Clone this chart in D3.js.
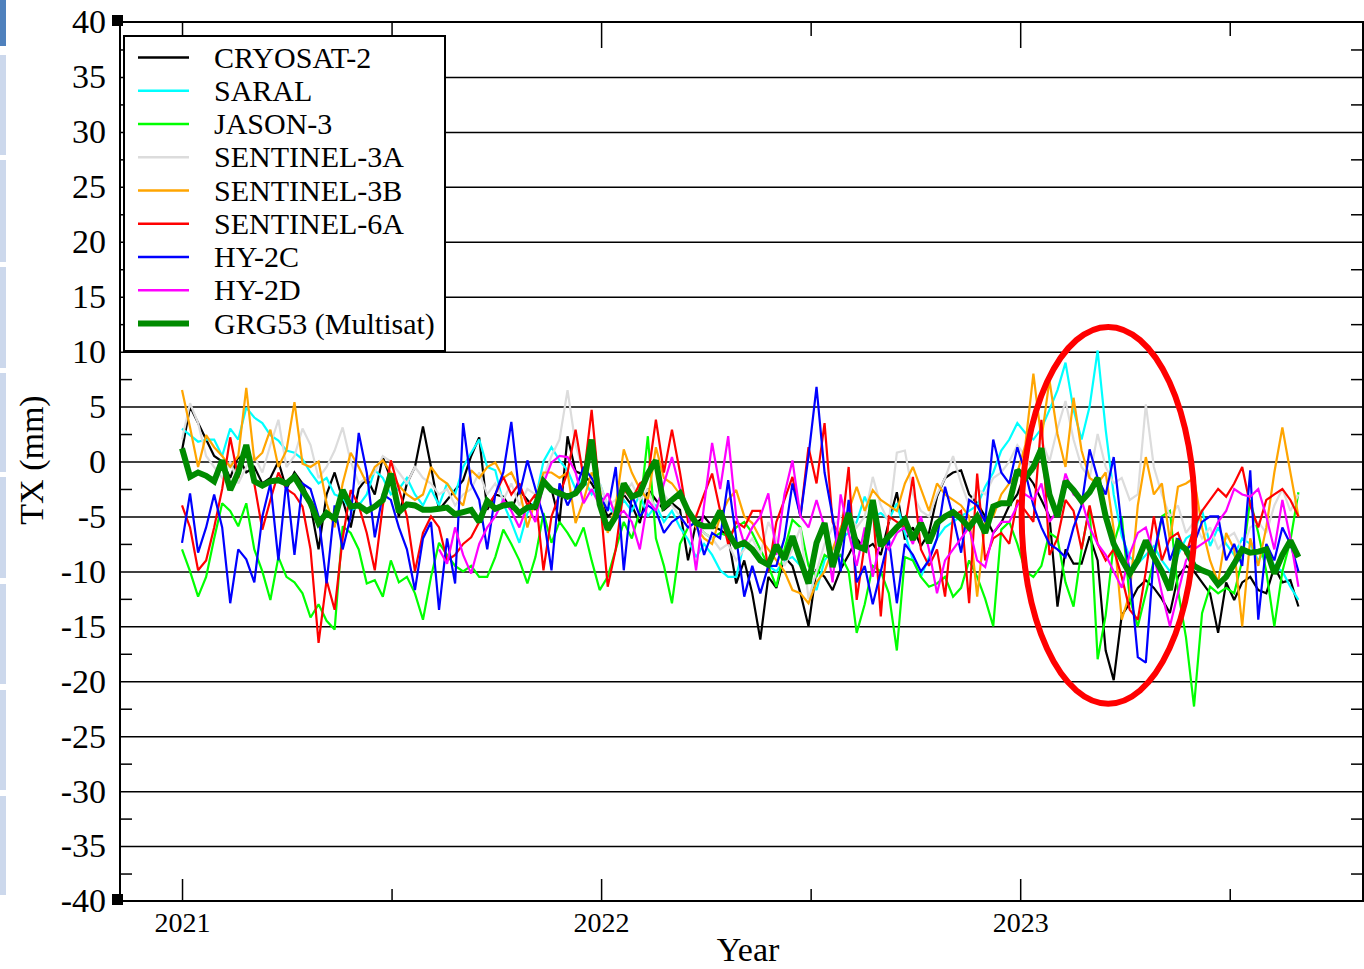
<!DOCTYPE html>
<html>
<head>
<meta charset="utf-8">
<script src="https://cdn.jsdelivr.net/npm/d3@7"></script>
<style>
body { margin: 0; background: #fff; }
svg { display: block; font-family: "Liberation Serif", "Times New Roman", serif; }
svg text { font-family: "Liberation Serif", "Times New Roman", serif; }
</style>
</head>
<body>
<script>
'use strict';

const width = 1364;
const height = 969;
const plot = { left: 120, right: 1363, top: 22, bottom: 901 };

// weekly solutions, first week at 2021.0
const startYear = 2021.0;
const weekStep = 7 / 365.25;

const yearTicks = [2021, 2022, 2023];
const halfYearTicks = [2021.5, 2022.5, 2023.5];
const yTickLabels = [40, 35, 30, 25, 20, 15, 10, 5, 0, -5, -10, -15, -20, -25, -30, -35, -40];

const seriesNames = ['CRYOSAT-2', 'SARAL', 'JASON-3', 'SENTINEL-3A', 'SENTINEL-3B',
  'SENTINEL-6A', 'HY-2C', 'HY-2D', 'GRG53 (Multisat)'];

const cryosat2 = [
  1.0, 5.0, 3.5, 2.0, 0.5, 0.0, -1.5, 0.5, -1.0, -0.5,
  -2.0, -1.5, 0.0, -2.5, -1.0, -2.0, -4.0, -8.0, -3.0, -1.0,
  -3.5, -6.0, -2.5, -1.5, -3.0, 0.4, -1.6, -5.0, -2.0, -0.5,
  3.2, -0.5, -4.4, -3.5, -2.6, -1.7, 0.5, 2.2, -4.4, -3.0,
  -3.2, -4.4, -2.6, -3.5, -4.4, -1.6, -2.5, -5.5, 2.3, -0.9,
  -1.2, -2.0, -3.3, -5.0, -4.4, -3.0, -4.0, -5.6, -2.5, -3.5,
  -4.4, -3.8, -4.4, -9.0, -5.6, -5.0, -5.9, -6.2, -6.8, -11.1,
  -9.0, -12.0, -16.2, -10.5, -11.5, -8.7, -9.5, -12.0, -15.0, -9.8,
  -10.5, -11.7, -9.8, -8.5, -7.0, -8.0, -7.5, -8.5, -5.5, -2.8,
  -7.1, -6.0, -7.7, -6.5, -3.2, -1.5, -1.0, -0.8, -3.0, -3.8,
  -5.0, -6.5, -5.6, -4.0, -3.0, -1.0, -2.0, -3.5, -5.0, -13.2,
  -8.0, -9.3, -9.3, -6.8, -9.0, -17.2, -19.9, -14.0, -12.9, -11.5,
  -10.8, -11.5, -12.5, -13.8, -10.5, -9.5, -10.0, -11.0, -12.0, -15.6,
  -11.0, -12.6, -11.0, -10.5, -11.7, -12.0, -9.6, -11.0, -10.8, -13.2
];

const saral = [
  3.0, 2.4, 1.8, 2.0, 2.0, 0.5, 3.0, 2.0, 4.9, 4.0,
  3.5, 2.4, 1.9, 1.0, 0.8, 0.2, -1.0, -2.0, -1.5, -3.0,
  -3.3, -4.5, -4.0, -3.0, -0.8, -1.5, -3.0, -2.5, -1.5, -3.0,
  -4.0, -2.5, -4.0, -2.0, -3.0, -0.5, 0.8, 2.0, -0.5, -0.8,
  -3.8, -5.5, -7.4, -4.7, -3.5, 0.0, 1.3, 0.1, -0.8, -2.5,
  -1.5, -3.0, -2.0, -4.0, -5.0, -3.5, -4.5, -3.0, -5.0, -4.0,
  -5.5, -4.5, -6.0, -7.1, -8.7, -7.5, -8.5, -9.9, -10.5, -10.5,
  -7.4, -8.0, -8.7, -9.5, -10.0, -9.0, -8.7, -9.5, -10.5, -11.7,
  -9.0, -8.0, -7.0, -6.5, -5.5, -3.2, -5.0, -4.7, -5.3, -3.8,
  -6.5, -9.0, -10.5, -8.7, -7.0, -6.0, -5.5, -5.0, -4.5, -4.0,
  -2.3, -1.0, 1.0, 2.0, 3.5, 2.6, 2.0, 3.0, 4.7, 6.5,
  9.0, 4.7, 2.0, 5.0, 10.1, 2.9, -3.0, -6.8, -8.7, -9.3,
  -8.5, -7.7, -9.0, -10.0, -8.5, -7.0, -6.5, -4.4, -7.7, -6.0,
  -7.5, -8.5, -7.0, -7.5, -9.0, -8.0, -9.5, -10.0, -11.4, -12.6
];

const jason3 = [
  -8.0, -10.0, -12.3, -10.5, -7.0, -3.8, -4.5, -5.9, -3.8, -8.0,
  -10.0, -12.6, -8.7, -10.5, -11.0, -12.0, -14.2, -13.0, -14.5, -15.3,
  -5.9, -6.5, -8.0, -11.1, -10.8, -12.3, -9.0, -11.0, -10.5, -12.0,
  -14.4, -10.5, -7.4, -8.5, -9.5, -10.0, -9.5, -10.5, -10.5, -8.7,
  -6.2, -7.5, -9.0, -11.1, -8.7, -4.7, -7.4, -5.5, -6.5, -7.7,
  -6.0, -9.0, -11.7, -10.5, -8.0, -5.5, -7.0, -4.5, 2.3, -7.0,
  -9.5, -12.9, -7.5, -6.0, -5.5, -6.5, -7.0, -6.5, -6.8, -6.0,
  -5.5, -6.5, -8.0, -9.5, -11.4, -8.0, -5.3, -6.0, -9.5, -10.5,
  -8.5, -9.0, -8.5, -10.0, -15.6, -13.0, -9.5, -10.0, -12.0, -17.2,
  -8.7, -9.0, -10.5, -11.4, -11.1, -10.5, -12.3, -11.5, -9.0, -10.5,
  -12.5, -15.0, -6.2, -5.5, -7.5, -10.0, -10.5, -9.5, -6.5, -7.0,
  -11.0, -13.2, -8.0, -4.1, -18.0, -14.0, -7.5, -5.0, -12.5, -15.0,
  -12.0, -9.0, -5.0, -4.5, -11.7, -16.0, -22.3, -13.8, -11.4, -12.0,
  -11.5, -12.0, -9.0, -3.5, -6.5, -10.0, -15.0, -10.0, -7.2, -2.8
];

const sentinel3a = [
  2.0, 5.3, 3.5, 0.5, -0.5, -1.5, 0.0, -2.0, -0.5, 0.5,
  -1.0, 1.5, 3.8, -0.5, 0.5, 3.0, 1.5, -1.5, -0.5, 1.0,
  3.1, 0.0, -2.0, -1.5, -1.0, 0.5, 0.0, -1.0, -2.0, -0.5,
  -1.5, -2.0, -3.0, -2.5, -4.0, -3.0, -2.5, -1.0, -3.0, -2.0,
  -3.5, -2.0, -4.0, -2.5, -3.0, -1.5, 0.5, 2.0, 6.5, 1.5,
  -1.0, 0.5, -2.0, -4.0, -3.5, -3.0, -2.0, -3.5, -2.5, -4.5,
  -3.0, -4.0, -5.0, -6.0, -5.5, -6.5, -7.0, -8.0, -7.5, -9.0,
  -8.0, -7.0, -8.5, -5.5, -7.0, -9.5, -8.0, -6.0, -12.5, -10.0,
  -7.5, -6.0, -5.0, -4.5, -6.0, -5.0, -1.4, -4.0, -5.5, 0.8,
  1.0, -3.0, -4.5, -5.0, -3.0, -1.5, 0.5, -2.0, -4.0, -2.5,
  -3.0, -1.5, -1.0, 0.0, 1.5, 0.5, -1.0, 2.0, 0.0, 3.0,
  5.5, 2.0, -0.5, -1.5, 2.5, -0.5, -2.0, -1.5, -3.5, -3.0,
  5.2, -0.5, -3.0, -5.0, -4.0, -6.5, -5.5, -7.0, -6.0, -8.0,
  -7.0, -6.5, -8.0, -6.0, -5.5, -6.5, -4.0, -2.5, -4.5, -3.0
];

const sentinel3b = [
  6.5, 3.1, -0.5, 2.4, 1.3, 0.5, -0.5, 0.5, 6.7, 0.1,
  0.8, 2.9, -0.5, 1.0, 5.4, -0.2, -0.5, 0.0, -3.8, -6.0,
  -2.0, 0.8, -0.5, -2.0, -0.5, 0.1, -1.0, -2.2, -3.0, -3.5,
  -3.0, -0.5, -1.5, -2.0, -3.2, -4.0, -0.8, -1.5, -0.5, -0.1,
  -1.5, -1.0, -2.5, -6.0, -3.5, -1.0, -1.0, -1.5, -1.0, -5.6,
  -3.5, -1.0, -2.5, -6.5, -4.0, 1.1, -1.0, -2.5, -3.5, 1.3,
  -1.5, -2.0, -3.0, -4.5, -6.0, -7.0, -7.5, -5.0, -3.5, -2.6,
  -5.0, -5.6, -7.0, -8.0, -9.0, -10.0, -11.7, -12.0, -12.9, -11.0,
  -10.0, -8.0, -6.0, -4.5, -2.3, -4.5, -2.6, -3.5, -4.0, -4.5,
  -2.0, -0.5, -2.5, -4.5, -2.0, -3.0, -3.5, -4.0, -5.0, -12.3,
  -5.5, -5.0, -3.0, -2.0, -1.0, 1.5, 8.0, 2.0, 7.4, 2.5,
  -0.5, 5.8, 1.0, -1.5, -2.0, -1.0, -6.2, -14.4, -12.0, -4.0,
  0.4, -3.0, -2.0, -7.2, -2.3, -2.0, -1.5, -6.0, -9.0, -11.0,
  -6.5, -8.0, -15.0, -7.0, -9.5, -6.0, -1.0, 3.1, -1.0, -5.0
];

const sentinel6a = [
  -4.0, -6.0, -9.9, -9.0, -6.0, -2.5, 2.2, -1.5, 1.3, -2.0,
  -6.2, -3.5, -1.0, -2.5, -3.0, -4.1, -8.0, -16.5, -10.8, -13.5,
  -7.0, -2.6, -4.0, -6.5, -9.9, -4.0, 0.1, -2.5, -5.0, -10.0,
  -6.5, -5.0, -6.0, -9.0, -8.5, -7.5, -6.9, -5.5, -4.1, -3.0,
  -1.4, -3.0, -2.0, -4.0, -3.0, -9.9, -5.0, -3.0, -1.0, 2.9,
  -1.5, 4.7, -3.0, -11.4, -8.0, -2.5, -3.5, -2.0, -1.5, 3.8,
  -1.0, 2.9, -1.0, -5.5, -5.0, -3.0, -1.1, -4.5, -7.5, -5.5,
  -6.0, -4.5, -4.5, -10.0, -5.5, -3.5, -1.4, -5.0, 1.3, -2.0,
  3.5, -5.5, -7.0, -0.5, -12.6, -7.5, -4.0, -14.1, -5.0, -5.5,
  -6.0, -1.4, -8.0, -9.5, -8.0, -12.3, -5.0, -4.5, -12.9, -1.1,
  -9.0, -7.0, -6.5, -7.5, -3.5, -4.5, -5.5, 3.8, -8.5, -7.0,
  -3.5, -4.5, -8.0, -4.0, -7.5, -9.0, -8.0, -10.5, -13.5, -14.4,
  -10.0, -5.0, -9.0, -7.0, -6.5, -8.5, -6.0, -4.5, -3.5, -2.5,
  -3.2, -2.0, -0.5, -4.0, -6.0, -3.5, -3.0, -2.5, -3.5, -5.0
];

const hy2c = [
  -7.4, -2.9, -8.3, -6.0, -3.0, -6.0, -12.9, -8.0, -8.9, -11.0,
  -5.0, -2.0, -9.0, -1.7, -8.5, -2.0, -2.5, -5.0, -11.1, -4.0,
  -8.0, -5.0, 2.6, -1.0, -6.9, -3.0, -3.5, -6.0, -8.0, -11.7,
  -7.0, -5.5, -13.5, -7.0, -11.1, 3.5, -2.0, -3.5, -8.0, -3.0,
  -1.0, 3.6, -3.0, 0.1, -2.5, -5.0, -9.9, -2.0, -4.0, -2.5,
  -0.5, -1.5, -3.0, -4.5, -0.5, -9.9, -3.0, -5.0, -4.0, -4.5,
  -6.5, -5.5, -5.0, -6.0, -5.5, -8.5, -6.5, -7.0, -1.7, -7.0,
  -12.3, -9.5, -12.0, -9.5, -9.5, -7.0, -2.0, -5.0, 0.5, 6.8,
  -1.0, -5.0, -10.0, -3.5, -11.0, -9.5, -13.0, -10.0, -7.0, -12.9,
  -7.5, -8.5, -10.0, -9.0, -7.0, -2.3, -5.0, -8.3, -3.5, -4.0,
  -5.5, 2.0, -1.0, -2.0, 1.3, -1.0, -4.0, -6.0, -7.5, -8.0,
  -8.7, -6.0, -4.0, 1.1, -1.5, -3.0, 0.4, -6.0, -10.0, -17.8,
  -18.3, -8.5, -5.0, -9.0, -7.0, -8.0, -7.5, -5.5, -5.0, -5.0,
  -9.0, -7.5, -9.5, -0.8, -14.4, -7.5, -9.0, -6.0, -7.5, -10.0
];

// HY-2D enters the solution in mid 2021
const hy2d = [
  null, null, null, null, null, null, null, null, null, null,
  null, null, null, null, null, null, null, null, null, null,
  null, null, null, null, null, null, null, null, null, null,
  null, null, -8.0, -9.3, -6.0, -8.5, -10.2, -7.5, -6.0, -5.0,
  -3.5, -4.5, -6.0, -4.0, -5.5, -2.0, -0.1, 0.5, 0.4, -1.0,
  -3.8, -2.5, -4.0, -2.9, -5.0, -4.5, -5.5, -8.0, -3.5, -4.5,
  -2.0, 0.4, -2.5, -4.5, -9.9, -4.0, 1.7, -2.5, 2.3, -5.0,
  -7.5, -6.0, -5.0, -2.9, -8.5, -3.0, 0.1, -5.0, -6.0, -3.5,
  -6.0, -11.0, -3.0, -6.5, -9.5, -6.0, -10.5, -7.0, -8.0, -6.5,
  -6.0, -7.5, -5.0, -8.0, -12.0, -9.0, -8.0, -7.0, -6.0, -9.0,
  -9.6, -6.5, -5.5, -5.5, -4.0, -3.0, -3.5, -2.0, -5.5, -4.5,
  -1.1, -3.0, -3.5, -6.0, -7.5, -8.5, -10.0, -11.5, -8.4, -6.5,
  -6.0, -8.5, -12.0, -15.0, -12.0, -9.0, -8.0, -7.5, -7.0, -5.5,
  -4.5, -2.5, -3.0, -3.2, -2.5, -5.0, -8.0, -3.5, -7.0, -11.4
];

const grg53 = [
  1.2, -1.4, -1.0, -1.3, -1.8, 0.1, -2.6, -1.0, 1.5, -1.8,
  -2.2, -1.8, -1.7, -2.0, -1.4, -2.6, -3.8, -5.6, -4.7, -5.2,
  -2.6, -4.1, -4.0, -4.5, -4.1, -3.5, -1.1, -4.6, -3.9, -4.0,
  -4.4, -4.4, -4.3, -4.2, -4.8, -4.6, -4.4, -5.5, -3.6, -4.3,
  -4.0, -3.9, -4.7, -4.2, -4.1, -1.8, -2.6, -2.9, -3.2, -2.9,
  -2.0, 2.0, -3.9, -6.2, -5.0, -2.0, -3.2, -2.9, -1.1, 0.1,
  -4.1, -3.5, -2.9, -4.5, -5.6, -5.9, -5.9, -4.5, -6.5, -7.7,
  -7.4, -8.0, -9.0, -9.4, -7.6, -8.9, -6.8, -9.0, -11.1, -7.4,
  -5.6, -9.6, -7.0, -4.7, -7.7, -8.0, -3.5, -7.7, -6.8, -6.0,
  -5.3, -7.1, -5.6, -7.4, -5.6, -5.0, -4.6, -5.2, -6.0, -5.0,
  -6.5, -4.1, -3.8, -3.8, -0.8, -1.5, -0.5, 1.2, -3.0, -5.0,
  -1.8, -2.6, -3.6, -2.8, -1.5, -5.0, -7.5, -8.9, -10.2, -9.0,
  -7.2, -8.7, -10.0, -11.7, -7.4, -8.0, -9.5, -9.9, -10.2, -11.2,
  -10.5, -9.3, -8.0, -8.3, -8.2, -8.0, -10.2, -8.5, -7.2, -8.7
];

// highlighted period (early 2023)
const ellipseCenter = [2023.21, -4.9];
const ellipseRadius = [0.2065, 17.15];

const allSeries = [cryosat2, saral, jason3, sentinel3a, sentinel3b, sentinel6a, hy2c, hy2d, grg53];
const colors = ['#000000', '#00ffff', '#00ff00', '#dcdcdc', '#ffa500', '#ff0000', '#0000ff', '#ff00ff', '#008b00'];
const lineWidths = [2.2, 2.2, 2.2, 2.2, 2.2, 2.2, 2.2, 2.2, 6];

const serif = '"Liberation Serif", "Times New Roman", serif';

const svg = d3.select('body')
  .append('svg')
  .attr('width', width)
  .attr('height', height);

svg.append('rect').attr('width', width).attr('height', height).attr('fill', '#fff');

// page strip on the far left
svg.append('rect').attr('x', 0).attr('y', 0).attr('width', 6).attr('height', 46).attr('fill', '#4f81bd');
[[55, 155], [160, 262], [267, 368], [373, 472], [477, 578], [584, 684], [690, 790], [796, 895]].forEach((s) => {
  svg.append('rect').attr('x', 0).attr('y', s[0]).attr('width', 6).attr('height', s[1] - s[0]).attr('fill', '#ccd8ec');
});

const x = d3.scaleLinear()
  .domain([2020.852, 2023.818])
  .range([plot.left, plot.right]);

const y = d3.scaleLinear()
  .domain([-40, 40])
  .range([plot.bottom, plot.top]);

const weekDate = (i) => startYear + i * weekStep;

const tickStyle = (g) => {
  g.select('.domain').remove();
  g.selectAll('line').attr('stroke', '#000').attr('stroke-width', 1.5);
};

// horizontal grid
svg.append('g')
  .attr('transform', `translate(${plot.left},0)`)
  .call(d3.axisLeft(y).tickValues(yTickLabels.filter((v) => Math.abs(v) < 40))
    .tickSize(-(plot.right - plot.left)).tickFormat(''))
  .call(tickStyle);

// minor ticks on left and right
const minorY = d3.range(-37.5, 40, 5);
svg.append('g')
  .attr('transform', `translate(${plot.left},0)`)
  .call(d3.axisLeft(y).tickValues(minorY).tickSize(-12).tickFormat(''))
  .call(tickStyle);
svg.append('g')
  .attr('transform', `translate(${plot.right},0)`)
  .call(d3.axisRight(y).tickValues(minorY).tickSize(-12).tickFormat(''))
  .call(tickStyle);

// y labels (plain hyphen for negatives)
svg.append('g')
  .attr('transform', `translate(${plot.left},0)`)
  .call(d3.axisLeft(y).tickValues(yTickLabels).tickSize(0).tickPadding(14).tickFormat((d) => String(d)))
  .call((g) => g.select('.domain').remove())
  .call((g) => g.selectAll('text')
    .style('font-family', serif)
    .style('font-size', '34px')
    .attr('fill', '#000'));

// bottom and top ticks
svg.append('g')
  .attr('transform', `translate(0,${plot.bottom})`)
  .call(d3.axisBottom(x).tickValues(yearTicks).tickSize(-22).tickPadding(11).tickFormat((d) => String(d)))
  .call(tickStyle)
  .call((g) => g.selectAll('text')
    .style('font-family', serif)
    .style('font-size', '28px')
    .attr('fill', '#000'));
svg.append('g')
  .attr('transform', `translate(0,${plot.bottom})`)
  .call(d3.axisBottom(x).tickValues(halfYearTicks).tickSize(-12).tickFormat(''))
  .call(tickStyle);
svg.append('g')
  .attr('transform', `translate(0,${plot.top})`)
  .call(d3.axisTop(x).tickValues(yearTicks).tickSize(-26).tickFormat(''))
  .call(tickStyle);
svg.append('g')
  .attr('transform', `translate(0,${plot.top})`)
  .call(d3.axisTop(x).tickValues(halfYearTicks).tickSize(-14).tickFormat(''))
  .call(tickStyle);

// frame
svg.append('rect')
  .attr('x', plot.left)
  .attr('y', plot.top)
  .attr('width', plot.right - plot.left)
  .attr('height', plot.bottom - plot.top)
  .attr('fill', 'none')
  .attr('stroke', '#000')
  .attr('stroke-width', 2);

// corner markers
[plot.top, plot.bottom].forEach((yy) => {
  svg.append('rect')
    .attr('x', plot.left - 8)
    .attr('y', yy - 7)
    .attr('width', 11)
    .attr('height', 11)
    .attr('fill', '#000');
});

svg.append('clipPath').attr('id', 'clip')
  .append('rect')
  .attr('x', plot.left)
  .attr('y', plot.top)
  .attr('width', plot.right - plot.left)
  .attr('height', plot.bottom - plot.top);

const line = d3.line()
  .defined((d) => d !== null)
  .x((d, i) => x(weekDate(i)))
  .y((d) => y(d));

const lines = svg.append('g').attr('clip-path', 'url(#clip)');
allSeries.forEach((s, k) => {
  lines.append('path')
    .datum(s)
    .attr('d', line)
    .attr('fill', 'none')
    .attr('stroke', colors[k])
    .attr('stroke-width', lineWidths[k])
    .attr('stroke-linejoin', 'miter')
    .attr('stroke-miterlimit', 2);
});

// red ellipse
svg.append('ellipse')
  .attr('cx', x(ellipseCenter[0]))
  .attr('cy', y(ellipseCenter[1]))
  .attr('rx', x(ellipseCenter[0] + ellipseRadius[0]) - x(ellipseCenter[0]))
  .attr('ry', y(ellipseCenter[1] - ellipseRadius[1]) - y(ellipseCenter[1]))
  .attr('fill', 'none')
  .attr('stroke', '#ff0000')
  .attr('stroke-width', 6);

// legend
const legend = svg.append('g');
legend.append('rect')
  .attr('x', 124)
  .attr('y', 36)
  .attr('width', 321)
  .attr('height', 315)
  .attr('fill', '#fff')
  .attr('stroke', '#000')
  .attr('stroke-width', 2);

const legendRow = d3.scaleLinear().domain([0, 8]).range([57.5, 323.5]);
seriesNames.forEach((name, k) => {
  const ly = legendRow(k);
  legend.append('line')
    .attr('x1', 138).attr('x2', 189)
    .attr('y1', ly).attr('y2', ly)
    .attr('stroke', colors[k])
    .attr('stroke-width', k === 8 ? 6 : 2.5);
  legend.append('text')
    .attr('x', 214)
    .attr('y', ly + 10)
    .style('font-size', '30px')
    .attr('fill', '#000')
    .text(name);
});

// axis titles
svg.append('text')
  .attr('transform', 'translate(43,460) rotate(-90)')
  .attr('text-anchor', 'middle')
  .style('font-size', '34px')
  .attr('fill', '#000')
  .text('TX (mm)');

svg.append('text')
  .attr('x', 748)
  .attr('y', 961)
  .attr('text-anchor', 'middle')
  .style('font-size', '34px')
  .attr('fill', '#000')
  .text('Year');
</script>
</body>
</html>
